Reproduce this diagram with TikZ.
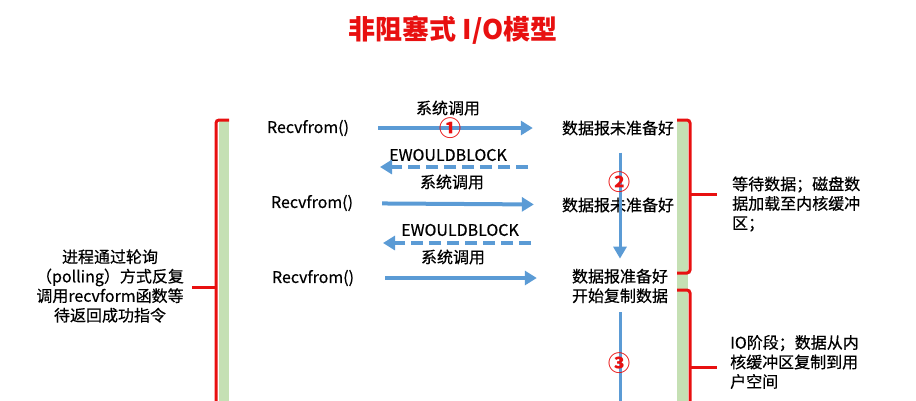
\documentclass[tikz,border=0pt]{standalone}
\usepackage{fontspec}
\setmainfont{Noto Sans CJK SC}
\newfontfamily\medfont{Noto Sans CJK SC}[FakeBold=0.5]
\usetikzlibrary{arrows.meta}
\definecolor{callblue}{RGB}{91,155,213}
\definecolor{bargreen}{RGB}{197,224,180}
\definecolor{bracered}{RGB}{232,16,16}

\begin{document}
\begin{tikzpicture}[x=1pt,y=-1pt,
    txt/.style={inner sep=0pt,font=\medfont\fontsize{16}{19.5}\selectfont},
    lat/.style={inner sep=0pt,font=\medfont\fontsize{16}{19.5}\selectfont},
    num/.style={inner sep=0pt,text=bracered,font=\bfseries\fontsize{22}{22}\selectfont},
    call/.style={callblue,line width=4pt,-{Triangle[width=14pt,length=12pt]}},
    back/.style={call,dash pattern=on 12pt off 6pt},
    down/.style={callblue,line width=3pt},
    brk/.style={bracered,line width=3pt,rounded corners=3pt}]
\useasboundingbox (0,0) rectangle (916,400);
\clip (0,0) rectangle (916,400);
\node [font=\fontsize{27}{30}\selectfont\bfseries, text=bracered] (title) at (453,30) {非阻塞式 I/O模型};
\fill [bargreen] (219,120) rectangle (229,420);
\fill [bargreen] (677,120) rectangle (688,420);
\draw [brk] (229,120) -- (216,120) -- (216,420);
\draw [brk] (216,287) -- (192,287);
\draw [brk] (677,120) -- (690,120) -- (690,273) -- (677,273);
\draw [brk] (690,194) -- (717,194);
\draw [brk] (677,290) -- (690,290) -- (690,420);
\draw [brk] (690,367) -- (717,367);
\node [lat] (r1) at (308,128) {Recvfrom()};
\node [lat] (r2) at (312,203) {Recvfrom()};
\node [lat] (r3) at (313,278) {Recvfrom()};
\node [txt] (d1) at (618,128) {数据报未准备好};
\node [txt] (d2) at (618,205) {数据报未准备好};
\node [txt, align=center] (d3) at (620,286) {数据报准备好\\开始复制数据};
\node [txt] (s1) at (448,108) {系统调用};
\node [lat] (w1) at (448,155) {EWOULDBLOCK};
\node [txt] (s2) at (452,182) {系统调用};
\node [lat] (w2) at (460,230) {EWOULDBLOCK};
\node [txt] (s3) at (453,257) {系统调用};
\coordinate (w1a) at (528,167);
\coordinate (w1b) at (380,167);
\coordinate (w2a) at (531,243);
\coordinate (w2b) at (383,243);
\coordinate (end) at (620,420);
\draw [call, shorten <=29pt, shorten >=29pt] (r1) -- (d1);
\draw [call, shorten <=29pt, shorten >=28pt] (r2) -- (d2);
\draw [call, shorten <=31pt, shorten >=35pt] (r3) -- (r3 -| d3.west);
\draw [back] (w1a) -- (w1b);
\draw [back] (w2a) -- (w2b);
\draw [down, -{Triangle[width=13pt,length=12pt]}, shorten <=17pt, shorten >=10pt]
    (d1.south -| d3) -- (d3.north);
\draw [down, shorten <=9pt] (d3.south) -- (end);
\node [num] (n1) at (450,128) {①};
\node [num] (n2) at (619,182) {②};
\node [num] (n3) at (619,363) {③};
\node [txt, align=center] (poll) at (110,286)
    {进程通过轮询\\（polling）方式反复\\调用recvform函数等\\待返回成功指令};
\node [txt, align=left, anchor=west] (wait) at (732,204)
    {等待数据；磁盘数\\据加载至内核缓冲\\区；};
\node [txt, align=left, anchor=west] (copy) at (730,362)
    {IO阶段；数据从内\\核缓冲区复制到用\\户空间};
\end{tikzpicture}
\end{document}
